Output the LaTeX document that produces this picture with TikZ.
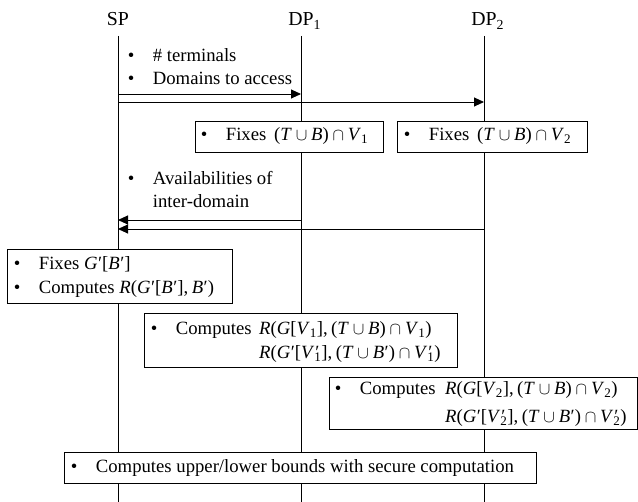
\documentclass[tikz,border=0pt]{standalone}
\usepackage{fontspec}
\setmainfont{Liberation Serif}
\usetikzlibrary{arrows.meta}
\newcommand{\mi}[1]{\textit{#1}}
\newcommand{\bl}{\makebox[25pt][l]{•}}
\newcommand{\pr}{\kern0.5pt′}
\newcommand{\Vp}[1]{\mi{V}\rlap{\kern1pt′}\textsubscript{#1}}
\newcommand{\cma}{,\kern3.5pt}
\begin{document}
\begin{tikzpicture}[x=1pt,y=-1pt,
  font=\fontsize{18.7}{22}\selectfont,
  lifeline/.style={line width=0.9pt},
  msg/.style={line width=0.9pt,-{Triangle[length=10pt,width=9pt]}},
  boxnode/.style={draw,line width=1pt,fill=white,inner sep=0pt,anchor=north west},
  txt/.style={anchor=base west,inner sep=0pt},
  head/.style={anchor=base,inner sep=0pt,font=\fontsize{19.8}{22}\selectfont}]
\useasboundingbox (0,0) rectangle (638,502);
% headers
\node[head] (sp) at (118,26) {SP};
\node[head] (dp1) at (301,26) {DP\rlap{\textsubscript{1}}};
\node[head] (dp2) at (484,26) {DP\rlap{\textsubscript{2}}};
% lifeline ends
\coordinate (spT) at (118,36);  \coordinate (spB) at (118,502);
\coordinate (d1T) at (301,36);  \coordinate (d1B) at (301,502);
\coordinate (d2T) at (484,36);  \coordinate (d2B) at (484,502);
\draw[lifeline] (spT) -- (spB);
\draw[lifeline] (d1T) -- (d1B);
\draw[lifeline] (d2T) -- (d2B);
% message 1
\node[txt] (m1a) at (127.7,62) {\bl\# terminals};
\node[txt] (m1b) at (127.7,85) {\bl Domains to access};
\coordinate (a1s) at (118,94);  \coordinate (a1e) at (301,94);
\coordinate (a2s) at (118,102); \coordinate (a2e) at (484,102);
\draw[msg] (a1s) -- (a1e);
\draw[msg] (a2s) -- (a2e);
% boxes 1 and 2
\node[boxnode,minimum width=188pt,minimum height=31pt] (b1) at (195,121) {};
\node[txt] (b1t) at (200.7,141) {\bl Fixes\, (\mi{T}${}\cup{}$\mi{B})${}\cap{}$\mi{V}\textsubscript{1}};
\node[boxnode,minimum width=190pt,minimum height=31pt] (b2) at (397,121) {};
\node[txt] (b2t) at (403.7,141) {\bl Fixes\, (\mi{T}${}\cup{}$\mi{B})${}\cap{}$\mi{V}\textsubscript{2}};
% message 2
\node[txt] (m2a) at (127.7,185) {\bl Availabilities of};
\node[txt] (m2b) at (152.7,208) {inter-domain};
\coordinate (a3s) at (301,220); \coordinate (a3e) at (118,220);
\coordinate (a4s) at (484,229); \coordinate (a4e) at (118,229);
\draw[msg] (a3s) -- (a3e);
\draw[msg] (a4s) -- (a4e);
% box 3
\node[boxnode,minimum width=225pt,minimum height=54pt] (b3) at (7,249) {};
\node[txt] (b3a) at (13.7,270) {\bl Fixes \mi{G}\pr[\mi{B}\pr]};
\node[txt] (b3b) at (13.7,294) {\bl Computes \mi{R}(\mi{G}\pr[\mi{B}\pr]\cma\mi{B}\pr)};
% box 4
\node[boxnode,minimum width=313pt,minimum height=54pt] (b4) at (144,313) {};
\node[txt] (b4a) at (150.7,335) {\bl Computes};
\node[txt] (b4f1) at (259,335) {\mi{R}(\mi{G}[\mi{V}\textsubscript{1}]\cma(\mi{T}${}\cup{}$\mi{B})${}\cap{}$\mi{V}\textsubscript{1})};
\node[txt] (b4f2) at (259,359) {\mi{R}(\mi{G}\pr[\Vp{1}]\cma(\mi{T}${}\cup{}$\mi{B}\pr)${}\cap{}$\Vp{1})};
% box 5
\node[boxnode,minimum width=308pt,minimum height=52pt] (b5) at (329,377) {};
\node[txt] (b5a) at (334.7,395) {\bl Computes};
\node[txt] (b5f1) at (445,395) {\mi{R}(\mi{G}[\mi{V}\textsubscript{2}]\cma(\mi{T}${}\cup{}$\mi{B})${}\cap{}$\mi{V}\textsubscript{2})};
\node[txt] (b5f2) at (445,423) {\mi{R}(\mi{G}\pr[\Vp{2}]\cma(\mi{T}${}\cup{}$\mi{B}\pr)${}\cap{}$\Vp{2})};
% box 6
\node[boxnode,minimum width=472pt,minimum height=31pt] (b6) at (64,452) {};
\node[txt] (b6t) at (70.7,473) {\bl Computes upper/lower bounds with secure computation};
\end{tikzpicture}
\end{document}
